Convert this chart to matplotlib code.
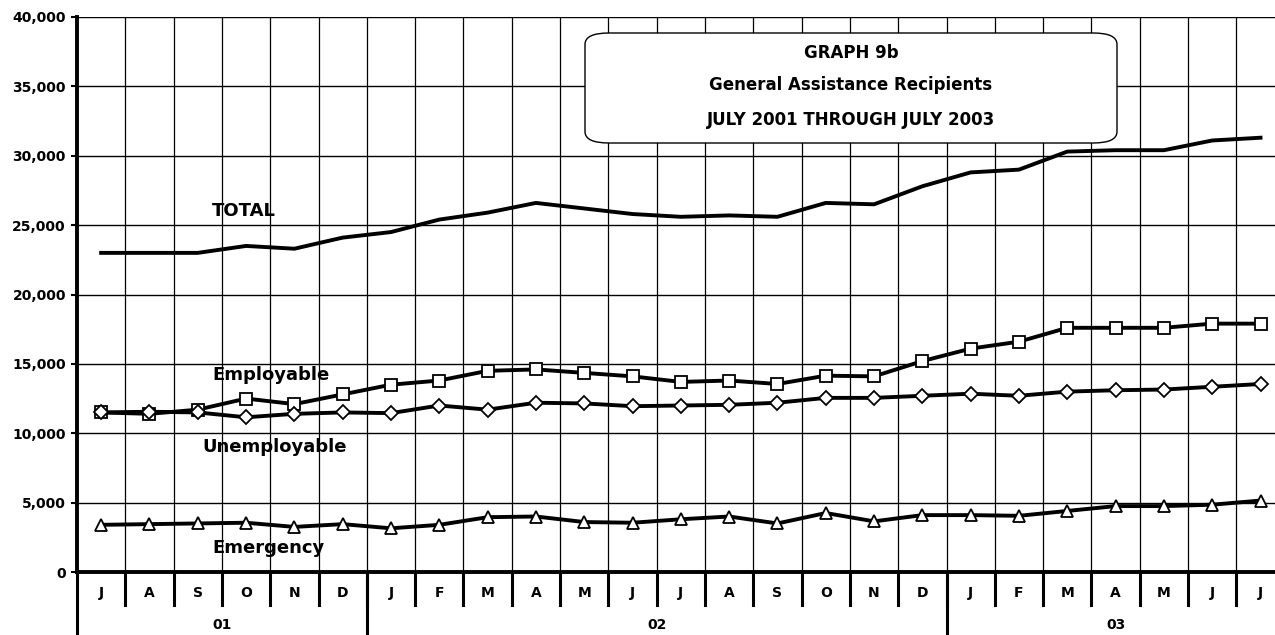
import matplotlib
matplotlib.use("Agg")
import matplotlib.pyplot as plt
from matplotlib.patches import FancyBboxPatch

months = ['J', 'A', 'S', 'O', 'N', 'D',
          'J', 'F', 'M', 'A', 'M', 'J', 'J', 'A', 'S', 'O', 'N', 'D',
          'J', 'F', 'M', 'A', 'M', 'J', 'J']
years = ['01', '02', '03']
year_start = [0, 6, 18]

total = [23000, 23000, 23000, 23500, 23300, 24100, 24500, 25400, 25900, 26600,
         26200, 25800, 25600, 25700, 25600, 26600, 26500, 27800, 28800, 29000,
         30300, 30400, 30400, 31100, 31300]
employable = [11500, 11400, 11700, 12500, 12100, 12800, 13500, 13800, 14500, 14600,
              14350, 14100, 13700, 13800, 13550, 14150, 14100, 15200, 16100, 16600,
              17600, 17600, 17600, 17900, 17900]
unemployable = [11500, 11550, 11500, 11150, 11400, 11500, 11450, 12000, 11700, 12200,
                12150, 11950, 12000, 12050, 12200, 12550, 12550, 12700, 12850, 12700,
                13000, 13100, 13150, 13350, 13550]
emergency = [3400, 3450, 3500, 3550, 3250, 3450, 3150, 3400, 3950, 4000,
             3600, 3550, 3800, 4000, 3500, 4250, 3650, 4100, 4100, 4050,
             4400, 4750, 4750, 4850, 5150]

x = list(range(len(months)))

fig = plt.figure(figsize=(12.75, 6.35), dpi=100)
ax = fig.add_axes([77/1275, 1-572/635, 1-77/1275, 555/635])

# grid
for v in range(5000, 40001, 5000):
    ax.axhline(v, color='black', lw=1.0, zorder=1)
for i in range(len(months)):
    ax.axvline(i + 0.5, color='black', lw=0.9, zorder=1)

ax.plot(x, total, color='black', lw=2.8, zorder=3)
ax.plot(x, employable, color='black', lw=2.8, marker='s', ms=8.5,
        mfc='white', mec='black', mew=1.3, zorder=4)
ax.plot(x, unemployable, color='black', lw=2.8, marker='D', ms=7.5,
        mfc='white', mec='black', mew=1.3, zorder=4)
ax.plot(x, emergency, color='black', lw=2.8, marker='^', ms=8.5,
        mfc='white', mec='black', mew=1.3, zorder=4)

ax.set_xlim(-0.5, 24.3)
ax.set_ylim(0, 40000)
ax.set_yticks(range(0, 40001, 5000))
ax.set_yticklabels([f'{v:,}' for v in range(0, 40001, 5000)],
                   fontsize=10, fontweight='bold')
ax.tick_params(axis='y', length=4, width=1.5, pad=4)
ax.set_xticks([])
for s in ['top', 'right']:
    ax.spines[s].set_visible(False)
ax.spines['left'].set_linewidth(2.8)
ax.spines['bottom'].set_linewidth(2.8)

# series labels
lab = dict(fontsize=13, fontweight='heavy', family='DejaVu Sans', zorder=5)
ax.text(2.3, 26000, 'TOTAL', ha='left', va='center', **lab)
ax.text(2.3, 14200, 'Employable', ha='left', va='center', **lab)
ax.text(2.1, 9000, 'Unemployable', ha='left', va='center', **lab)
ax.text(2.3, 1700, 'Emergency', ha='left', va='center', **lab)

# title box
tb = FancyBboxPatch((508/1198, 1-(143-17)/555), (1117-585)/1198 - 0.0, (143-33)/555,
                    boxstyle='round,pad=0,rounding_size=0.02', transform=ax.transAxes,
                    facecolor='white', edgecolor='black', lw=1.0, zorder=6,
                    mutation_aspect=555/1198*2.2)
ax.add_patch(tb)
cx = (851-77)/1198
for txt, py in [('GRAPH 9b', 53), ('General Assistance Recipients', 85),
                ('JULY 2001 THROUGH JULY 2003', 120)]:
    ax.text(cx, 1-(py-17)/555, txt, transform=ax.transAxes, ha='center', va='center',
            fontsize=12, fontweight='bold', zorder=7)

# month / year rows
tr = ax.get_xaxis_transform()
for i, m in enumerate(months):
    ax.text(i, -0.038, m, transform=tr, ha='center', va='center',
            fontsize=10, fontweight='bold')
    ax.plot([i + 0.5, i + 0.5], [0, -0.06], transform=tr, color='black',
            lw=2.2, clip_on=False)
ends = year_start[1:] + [len(months)]
for yl, s, e in zip(years, year_start, ends):
    ax.text((s + e - 1) / 2, -0.095, yl, transform=tr, ha='center', va='center',
            fontsize=10, fontweight='bold')
for s in year_start:
    ax.plot([s - 0.5, s - 0.5], [0, -0.12], transform=tr, color='black',
            lw=2.2, clip_on=False)

fig.savefig('out.png', dpi=100)
